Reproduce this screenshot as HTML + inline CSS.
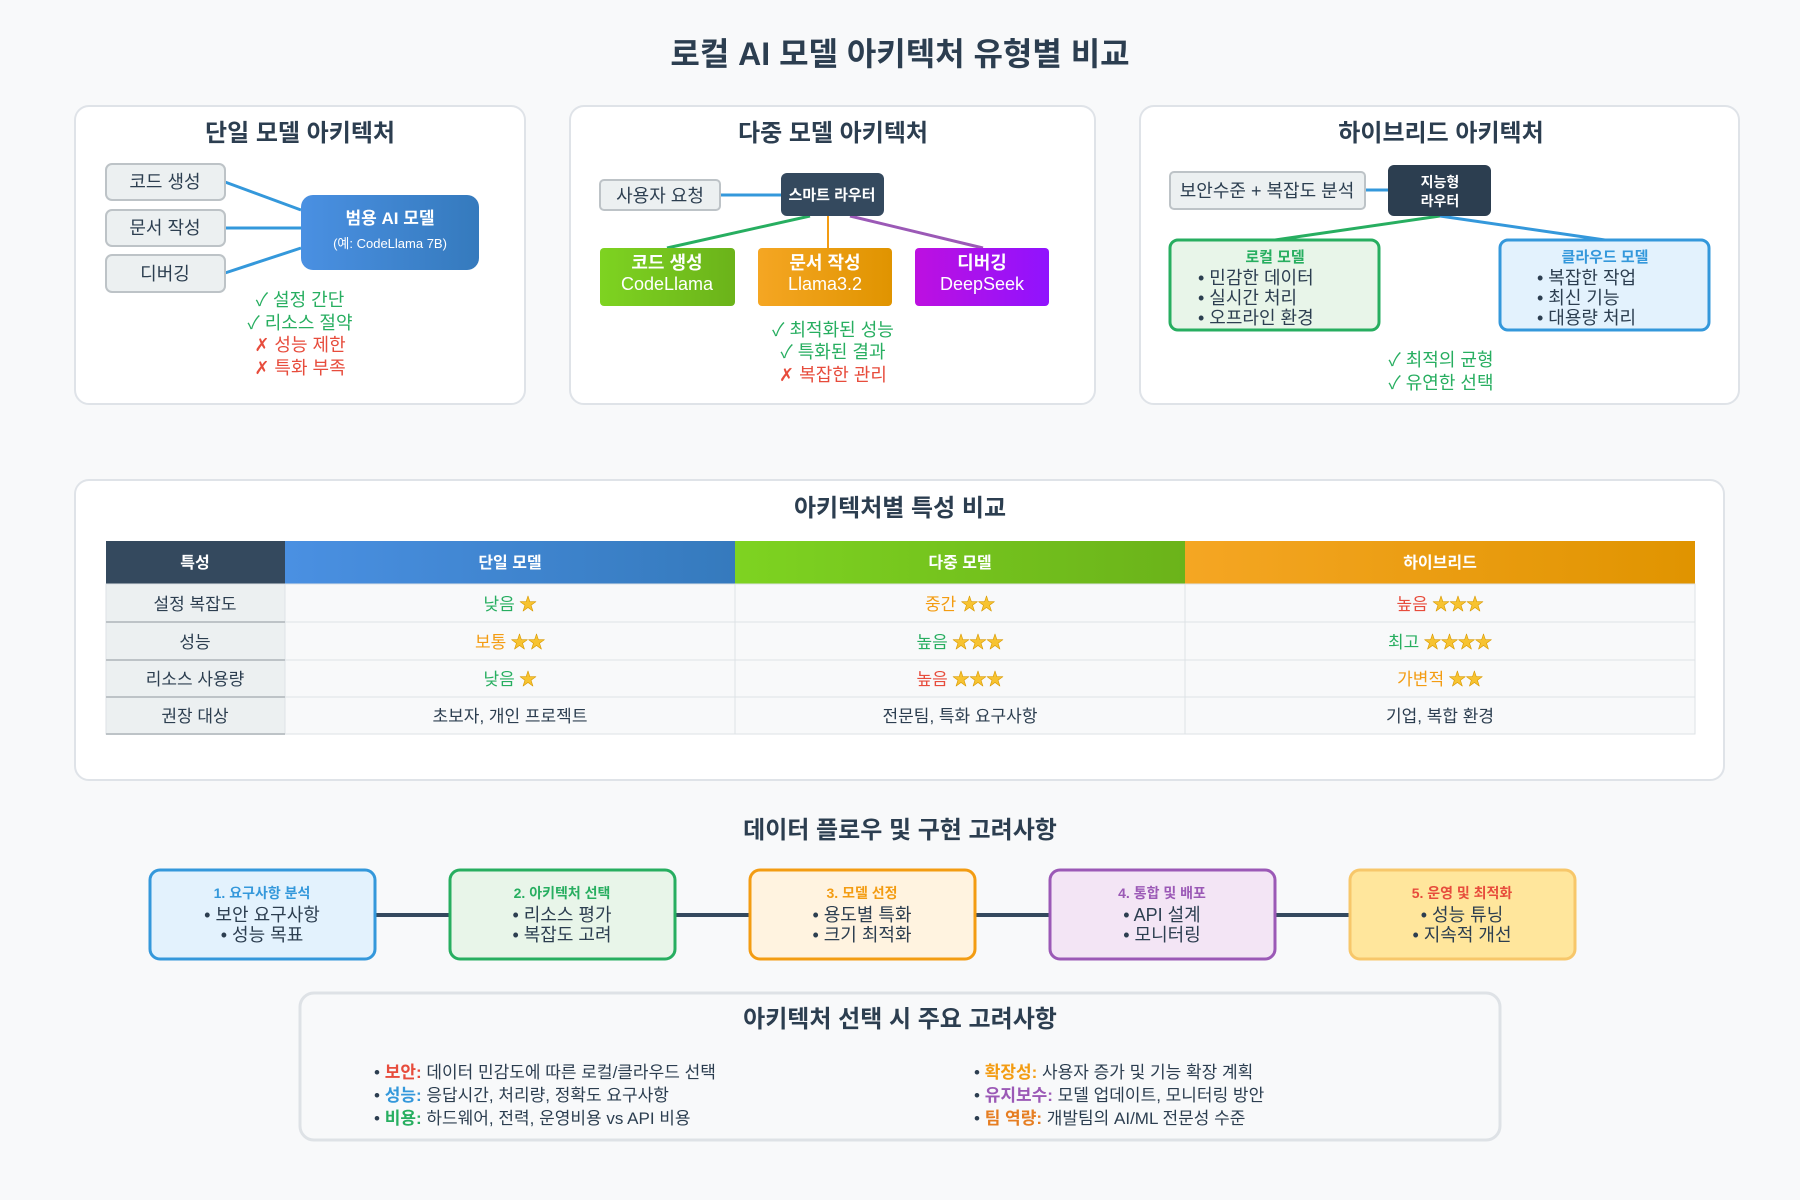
<!DOCTYPE html>
<html><head><meta charset="utf-8"><style>
body{margin:0;background:#f8f9fa}
svg{display:block;font-family:"Liberation Sans","Noto Sans CJK KR",sans-serif}
.t{font-weight:bold;fill:#2c3e50}
.c{text-anchor:middle}
.g{fill:#27ae60}.r{fill:#e74c3c}.o{fill:#f39c12}
.star{fill:#f7c331;stroke:#d99a00;stroke-width:.6}
</style></head><body>
<svg width="1800" height="1200" viewBox="0 0 1800 1200">
<defs>
<linearGradient id="gb" x1="0" x2="1"><stop offset="0" stop-color="#4a90e2"/><stop offset="1" stop-color="#357abd"/></linearGradient>
<linearGradient id="gg" x1="0" x2="1"><stop offset="0" stop-color="#7ed321"/><stop offset="1" stop-color="#6bb31a"/></linearGradient>
<linearGradient id="go" x1="0" x2="1"><stop offset="0" stop-color="#f5a623"/><stop offset="1" stop-color="#e09400"/></linearGradient>
<linearGradient id="gp" x1="0" x2="1"><stop offset="0" stop-color="#bd10e0"/><stop offset="1" stop-color="#9013fe"/></linearGradient>
</defs>
<rect width="1800" height="1200" fill="#f8f9fa"/>
<text x="900" y="65" class="t c" font-size="32">로컬 AI 모델 아키텍처 유형별 비교</text>

<!-- Panel 1 -->
<g>
<rect x="75" y="106" width="450" height="298" rx="14" fill="#fff" stroke="#dfe3e8" stroke-width="2"/>
<text x="300" y="141" class="t c" font-size="24">단일 모델 아키텍처</text>
<g stroke="#3498db" stroke-width="3"><line x1="225" y1="182" x2="301" y2="210"/><line x1="225" y1="228" x2="301" y2="228"/><line x1="225" y1="273" x2="301" y2="248"/></g>
<g fill="#ecf0f1" stroke="#bdc3c7" stroke-width="2">
<rect x="106" y="164" width="119" height="36" rx="6"/><rect x="106" y="210" width="119" height="36" rx="6"/><rect x="106" y="255" width="119" height="37" rx="6"/></g>
<g font-size="18" fill="#2c3e50" class="c"><text x="165" y="188">코드 생성</text><text x="165" y="234">문서 작성</text><text x="165" y="280">디버깅</text></g>
<rect x="301" y="195" width="178" height="75" rx="12" fill="url(#gb)"/>
<text x="390" y="224" class="c" font-size="17" font-weight="bold" fill="#fff">범용 AI 모델</text>
<text x="390" y="248" class="c" font-size="13" fill="#fff">(예: CodeLlama 7B)</text>
<g font-size="18" class="c"><text x="300" y="306" class="g">✓ 설정 간단</text><text x="300" y="329" class="g">✓ 리소스 절약</text><text x="300" y="351" class="r">✗ 성능 제한</text><text x="300" y="374" class="r">✗ 특화 부족</text></g>
</g>

<!-- Panel 2 -->
<g>
<rect x="570" y="106" width="525" height="298" rx="14" fill="#fff" stroke="#dfe3e8" stroke-width="2"/>
<text x="833" y="141" class="t c" font-size="24">다중 모델 아키텍처</text>
<line x1="720" y1="195" x2="781" y2="195" stroke="#3498db" stroke-width="3"/>
<line x1="810" y1="216" x2="667" y2="248" stroke="#27ae60" stroke-width="3"/>
<line x1="828" y1="216" x2="828" y2="248" stroke="#f39c12" stroke-width="2"/>
<line x1="850" y1="216" x2="983" y2="248" stroke="#9b59b6" stroke-width="3"/>
<rect x="600" y="180" width="120" height="30" rx="4" fill="#ecf0f1" stroke="#bdc3c7" stroke-width="2"/>
<text x="660" y="202" class="c" font-size="18" fill="#2c3e50">사용자 요청</text>
<rect x="781" y="173" width="103" height="43" rx="6" fill="#34495e"/>
<text x="832" y="200" class="c" font-size="15" font-weight="bold" fill="#fff">스마트 라우터</text>
<rect x="600" y="248" width="135" height="58" rx="4" fill="url(#gg)"/>
<rect x="758" y="248" width="134" height="58" rx="4" fill="url(#go)"/>
<rect x="915" y="248" width="134" height="58" rx="4" fill="url(#gp)"/>
<g class="c" fill="#fff" font-size="18">
<text x="667" y="269" font-weight="bold">코드 생성</text><text x="667" y="290">CodeLlama</text>
<text x="825" y="269" font-weight="bold">문서 작성</text><text x="825" y="290">Llama3.2</text>
<text x="982" y="269" font-weight="bold">디버깅</text><text x="982" y="290">DeepSeek</text></g>
<g font-size="18" class="c"><text x="833" y="336" class="g">✓ 최적화된 성능</text><text x="833" y="358" class="g">✓ 특화된 결과</text><text x="833" y="381" class="r">✗ 복잡한 관리</text></g>
</g>

<!-- Panel 3 -->
<g>
<rect x="1140" y="106" width="599" height="298" rx="14" fill="#fff" stroke="#dfe3e8" stroke-width="2"/>
<text x="1441" y="141" class="t c" font-size="24">하이브리드 아키텍처</text>
<line x1="1365" y1="190" x2="1388" y2="190" stroke="#3498db" stroke-width="3"/>
<line x1="1440" y1="216" x2="1275" y2="240" stroke="#27ae60" stroke-width="3"/>
<line x1="1440" y1="216" x2="1605" y2="240" stroke="#3498db" stroke-width="3"/>
<rect x="1170" y="172" width="195" height="37" rx="4" fill="#ecf0f1" stroke="#bdc3c7" stroke-width="2"/>
<text x="1267" y="197" class="c" font-size="18" fill="#2c3e50">보안수준 + 복잡도 분석</text>
<rect x="1388" y="165" width="103" height="51" rx="6" fill="#2c3e50"/>
<text x="1440" y="187" class="c" font-size="14" font-weight="bold" fill="#fff">지능형</text>
<text x="1440" y="206" class="c" font-size="14" font-weight="bold" fill="#fff">라우터</text>
<rect x="1170" y="240" width="209" height="90" rx="8" fill="#e8f5e9" stroke="#27ae60" stroke-width="3"/>
<rect x="1500" y="240" width="209" height="90" rx="8" fill="#e3f2fd" stroke="#3498db" stroke-width="3"/>
<text x="1275" y="262" class="c g" font-size="15" font-weight="bold">로컬 모델</text>
<text x="1605" y="262" class="c" font-size="15" font-weight="bold" fill="#3498db">클라우드 모델</text>
<g font-size="18" fill="#2c3e50">
<text x="1198" y="284">• 민감한 데이터</text><text x="1198" y="304">• 실시간 처리</text><text x="1198" y="324">• 오프라인 환경</text>
<text x="1537" y="284">• 복잡한 작업</text><text x="1537" y="304">• 최신 기능</text><text x="1537" y="324">• 대용량 처리</text></g>
<g font-size="18" class="c g"><text x="1441" y="366">✓ 최적의 균형</text><text x="1441" y="389">✓ 유연한 선택</text></g>
</g>

<!-- Table section -->
<g>
<rect x="75" y="480" width="1649" height="300" rx="14" fill="#fff" stroke="#dfe3e8" stroke-width="2"/>
<text x="900" y="516" class="t c" font-size="24">아키텍처별 특성 비교</text>
<rect x="106" y="541" width="179" height="43" fill="#34495e"/>
<rect x="285" y="541" width="450" height="43" fill="url(#gb)"/>
<rect x="735" y="541" width="450" height="43" fill="url(#gg)"/>
<rect x="1185" y="541" width="510" height="43" fill="url(#go)"/>
<g class="c" fill="#fff" font-size="16" font-weight="bold">
<text x="195" y="568">특성</text><text x="510" y="568">단일 모델</text><text x="960" y="568">다중 모델</text><text x="1440" y="568">하이브리드</text></g>
<g stroke="#dee2e6" stroke-width="1">
<rect x="106" y="584" width="179" height="150" fill="#ecf0f1"/>
<rect x="285" y="584" width="1410" height="150" fill="#f8f9fa"/>
<line x1="106" y1="622" x2="1695" y2="622"/><line x1="106" y1="660" x2="1695" y2="660"/><line x1="106" y1="697" x2="1695" y2="697"/>
<line x1="735" y1="584" x2="735" y2="734"/><line x1="1185" y1="584" x2="1185" y2="734"/></g>
<g stroke="#bdc3c7" stroke-width="2"><line x1="106" y1="622" x2="285" y2="622"/><line x1="106" y1="660" x2="285" y2="660"/><line x1="106" y1="697" x2="285" y2="697"/><line x1="106" y1="734" x2="285" y2="734"/></g>
<g class="c" font-size="17" fill="#2c3e50">
<text x="195" y="610">설정 복잡도</text><text x="195" y="648">성능</text><text x="195" y="685">리소스 사용량</text><text x="195" y="722">권장 대상</text>
<text x="510" y="722">초보자, 개인 프로젝트</text><text x="960" y="722">전문팀, 특화 요구사항</text><text x="1440" y="722">기업, 복합 환경</text></g>
<g class="c" font-size="17">
<text x="510" y="610"><tspan class="g">낮음</tspan><tspan class="star"> ★</tspan></text>
<text x="960" y="610"><tspan class="o">중간</tspan><tspan class="star"> ★★</tspan></text>
<text x="1440" y="610"><tspan class="r">높음</tspan><tspan class="star"> ★★★</tspan></text>
<text x="510" y="648"><tspan class="o">보통</tspan><tspan class="star"> ★★</tspan></text>
<text x="960" y="648"><tspan class="g">높음</tspan><tspan class="star"> ★★★</tspan></text>
<text x="1440" y="648"><tspan class="g">최고</tspan><tspan class="star"> ★★★★</tspan></text>
<text x="510" y="685"><tspan class="g">낮음</tspan><tspan class="star"> ★</tspan></text>
<text x="960" y="685"><tspan class="r">높음</tspan><tspan class="star"> ★★★</tspan></text>
<text x="1440" y="685"><tspan class="o">가변적</tspan><tspan class="star"> ★★</tspan></text>
</g>
</g>

<!-- Flow -->
<g>
<text x="900" y="838" class="t c" font-size="24">데이터 플로우 및 구현 고려사항</text>
<g stroke="#34495e" stroke-width="4"><line x1="375" y1="915" x2="450" y2="915"/><line x1="675" y1="915" x2="750" y2="915"/><line x1="975" y1="915" x2="1050" y2="915"/><line x1="1275" y1="915" x2="1350" y2="915"/></g>
<g stroke-width="3">
<rect x="150" y="870" width="225" height="89" rx="10" fill="#e3f2fd" stroke="#3498db"/>
<rect x="450" y="870" width="225" height="89" rx="10" fill="#e8f5e9" stroke="#27ae60"/>
<rect x="750" y="870" width="225" height="89" rx="10" fill="#fff3e0" stroke="#f39c12"/>
<rect x="1050" y="870" width="225" height="89" rx="10" fill="#f3e5f5" stroke="#9b59b6"/>
<rect x="1350" y="870" width="225" height="89" rx="10" fill="#ffe69c" stroke="#f7c76a"/></g>
<g class="c" font-size="14" font-weight="bold">
<text x="262" y="898" fill="#3498db">1. 요구사항 분석</text><text x="562" y="898" fill="#27ae60">2. 아키텍처 선택</text><text x="862" y="898" fill="#f39c12">3. 모델 선정</text><text x="1162" y="898" fill="#9b59b6">4. 통합 및 배포</text><text x="1462" y="898" fill="#e74c3c">5. 운영 및 최적화</text></g>
<g class="c" font-size="18" fill="#2c3e50">
<text x="262" y="921">• 보안 요구사항</text><text x="262" y="941">• 성능 목표</text>
<text x="562" y="921">• 리소스 평가</text><text x="562" y="941">• 복잡도 고려</text>
<text x="862" y="921">• 용도별 특화</text><text x="862" y="941">• 크기 최적화</text>
<text x="1162" y="921">• API 설계</text><text x="1162" y="941">• 모니터링</text>
<text x="1462" y="921">• 성능 튜닝</text><text x="1462" y="941">• 지속적 개선</text></g>
</g>

<!-- Considerations -->
<g>
<rect x="300" y="993" width="1200" height="147" rx="14" fill="#f8f9fa" stroke="#dee2e6" stroke-width="3"/>
<text x="900" y="1027" class="t c" font-size="24">아키텍처 선택 시 주요 고려사항</text>
<g font-size="17" fill="#2c3e50">
<text x="374" y="1078">• <tspan fill="#e74c3c" font-weight="bold">보안:</tspan> 데이터 민감도에 따른 로컬/클라우드 선택</text>
<text x="374" y="1101">• <tspan fill="#3498db" font-weight="bold">성능:</tspan> 응답시간, 처리량, 정확도 요구사항</text>
<text x="374" y="1124">• <tspan fill="#27ae60" font-weight="bold">비용:</tspan> 하드웨어, 전력, 운영비용 vs API 비용</text>
<text x="974" y="1078">• <tspan fill="#f39c12" font-weight="bold">확장성:</tspan> 사용자 증가 및 기능 확장 계획</text>
<text x="974" y="1101">• <tspan fill="#9b59b6" font-weight="bold">유지보수:</tspan> 모델 업데이트, 모니터링 방안</text>
<text x="974" y="1124">• <tspan fill="#e67e22" font-weight="bold">팀 역량:</tspan> 개발팀의 AI/ML 전문성 수준</text>
</g>
</g>
</svg>
</body></html>
